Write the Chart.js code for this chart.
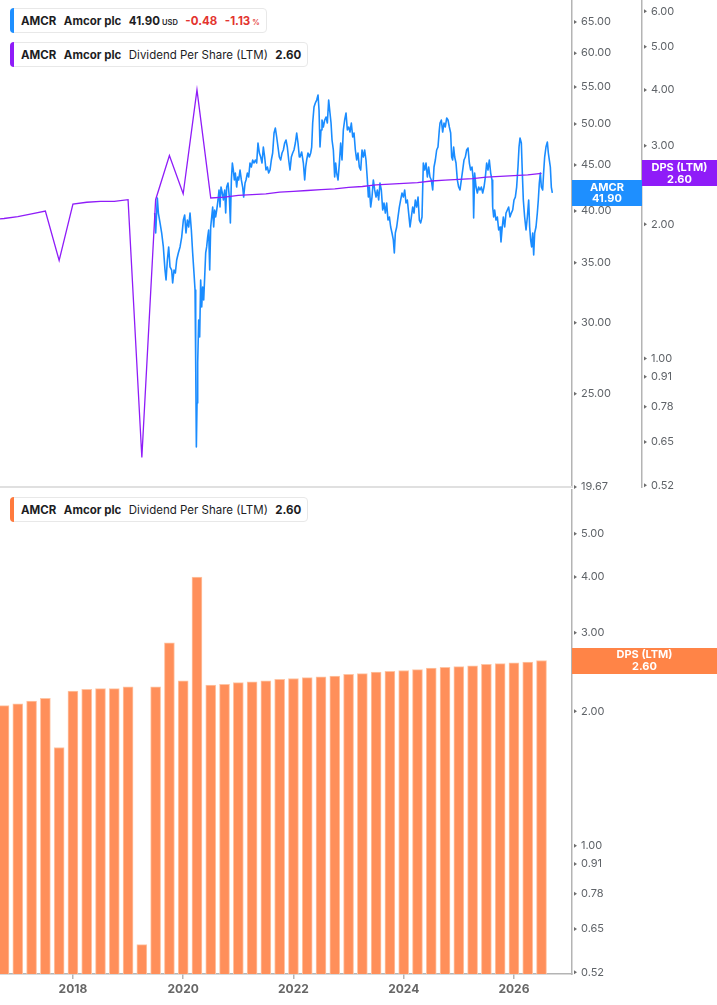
<!DOCTYPE html>
<html>
<head>
<meta charset="utf-8">
<title>AMCR Amcor plc - Dividend Per Share (LTM)</title>
<script src="https://cdn.jsdelivr.net/npm/chart.js@4.4.1/dist/chart.umd.min.js"></script>
<style>
  html, body { margin: 0; padding: 0; background: #fff; }
  #wrap { position: relative; width: 717px; height: 1005px; overflow: hidden; font-family: Inter, "Noto Sans", sans-serif; }
  .pane { position: absolute; left: 0; width: 717px; }
  #topPane { top: 0; height: 500px; }
  #bottomPane { top: 489px; height: 516px; }
  .legend {
    position: absolute; left: 10px; height: 23px; box-sizing: content-box;
    display: flex; align-items: center; gap: 7.5px; padding: 0 6px 0 10px;
    background: #fff; border: 1px solid #e8e8e8; border-radius: 4px;
    font-size: 11.5px; color: #1d1d1f; white-space: nowrap; z-index: 5;
  }
  .legend .mark { position: absolute; left: -1px; top: -1px; bottom: -1px; width: 4px; border-radius: 4px 0 0 4px; }
  .legend b { font-weight: 700; }
  .legend small { font-size: 7.5px; font-weight: 600; margin-left: 2px; }
  .legend .neg { color: #e3342f; }
</style>
</head>
<body>
<div id="wrap">
  <div class="pane" id="topPane"><canvas id="priceChart"></canvas></div>
  <div class="pane" id="bottomPane"><canvas id="dpsChart"></canvas></div>

  <div class="legend" style="top:8px">
    <span class="mark" style="background:#1e8fff"></span>
    <b>AMCR</b><b>Amcor plc</b><b>41.90<small>USD</small></b><b class="neg">-0.48</b><b class="neg">-1.13<small>%</small></b>
  </div>
  <div class="legend" style="top:42px">
    <span class="mark" style="background:#8f1cf8"></span>
    <b>AMCR</b><b>Amcor plc</b><span>Dividend Per Share (LTM)</span><b>2.60</b>
  </div>
  <div class="legend" style="top:497px">
    <span class="mark" style="background:#ff7a3d"></span>
    <b>AMCR</b><b>Amcor plc</b><span>Dividend Per Share (LTM)</span><b>2.60</b>
  </div>
</div>

<script>
"use strict";

// x axis (decimal years)
const yearTicks = [2018, 2020, 2022, 2024, 2026];

// tick labels on the right axes
const priceTicks = [19.67, 25, 30, 35, 40, 45, 50, 55, 60, 65];
const dpsTopTicks = [0.52, 0.65, 0.78, 0.91, 1, 2, 3, 4, 5, 6];
const dpsBottomTicks = [0.52, 0.65, 0.78, 0.91, 1, 2, 3, 4, 5];

// dividend per share (LTM), quarterly
const dpsDates = [
  2016.5, 2016.75, 2017.0, 2017.25, 2017.5, 2017.75, 2018.0, 2018.25, 2018.5, 2018.75,
  2019.0, 2019.25, 2019.5, 2019.75, 2020.0, 2020.25, 2020.5, 2020.75, 2021.0, 2021.25,
  2021.5, 2021.75, 2022.0, 2022.25, 2022.5, 2022.75, 2023.0, 2023.25, 2023.5, 2023.75,
  2024.0, 2024.25, 2024.5, 2024.75, 2025.0, 2025.25, 2025.5, 2025.75, 2026.0, 2026.25,
  2026.5,
];
const dpsValues = [
  2.05, 2.06, 2.08, 2.11, 2.14, 1.66, 2.22, 2.24, 2.25, 2.25,
  2.27, 0.60, 2.27, 2.85, 2.34, 4.00, 2.29, 2.30, 2.32, 2.33,
  2.34, 2.36, 2.37, 2.38, 2.39, 2.40, 2.42, 2.43, 2.45, 2.46,
  2.47, 2.48, 2.50, 2.51, 2.52, 2.53, 2.55, 2.56, 2.57, 2.58,
  2.60,
];

// share price (USD)
const priceDates = [
  2019.483, 2019.501, 2019.531, 2019.550, 2019.580, 2019.610, 2019.640, 2019.670, 2019.689, 2019.713,
  2019.737, 2019.761, 2019.791, 2019.809, 2019.834, 2019.858, 2019.882, 2019.912, 2019.943, 2019.973,
  2020.003, 2020.027, 2020.051, 2020.076, 2020.100, 2020.124, 2020.148, 2020.172, 2020.196, 2020.215,
  2020.227, 2020.239, 2020.251, 2020.263, 2020.281, 2020.299, 2020.317, 2020.336, 2020.354, 2020.372,
  2020.390, 2020.408, 2020.426, 2020.444, 2020.462, 2020.481, 2020.499, 2020.517, 2020.535, 2020.553,
  2020.571, 2020.589, 2020.608, 2020.632, 2020.650, 2020.668, 2020.686, 2020.710, 2020.729, 2020.753,
  2020.771, 2020.789, 2020.813, 2020.837, 2020.856, 2020.874, 2020.892, 2020.910, 2020.928, 2020.946,
  2020.970, 2020.989, 2021.007, 2021.031, 2021.055, 2021.079, 2021.097, 2021.122, 2021.140, 2021.164,
  2021.188, 2021.212, 2021.236, 2021.261, 2021.285, 2021.309, 2021.333, 2021.357, 2021.382, 2021.406,
  2021.430, 2021.454, 2021.478, 2021.502, 2021.527, 2021.551, 2021.575, 2021.599, 2021.623, 2021.648,
  2021.672, 2021.696, 2021.720, 2021.744, 2021.768, 2021.793, 2021.817, 2021.841, 2021.865, 2021.889,
  2021.914, 2021.938, 2021.962, 2021.986, 2022.010, 2022.035, 2022.059, 2022.083, 2022.107, 2022.119,
  2022.149, 2022.180, 2022.204, 2022.222, 2022.240, 2022.264, 2022.289, 2022.313, 2022.331, 2022.349,
  2022.373, 2022.397, 2022.422, 2022.446, 2022.464, 2022.482, 2022.500, 2022.518, 2022.542, 2022.567,
  2022.591, 2022.615, 2022.639, 2022.663, 2022.682, 2022.700, 2022.724, 2022.748, 2022.766, 2022.784,
  2022.809, 2022.833, 2022.857, 2022.881, 2022.905, 2022.929, 2022.954, 2022.978, 2023.002, 2023.026,
  2023.050, 2023.075, 2023.099, 2023.123, 2023.147, 2023.171, 2023.195, 2023.220, 2023.244, 2023.268,
  2023.292, 2023.316, 2023.341, 2023.359, 2023.377, 2023.401, 2023.425, 2023.449, 2023.474, 2023.498,
  2023.522, 2023.546, 2023.570, 2023.594, 2023.619, 2023.643, 2023.667, 2023.691, 2023.715, 2023.740,
  2023.764, 2023.788, 2023.812, 2023.830, 2023.848, 2023.873, 2023.897, 2023.921, 2023.945, 2023.969,
  2023.994, 2024.018, 2024.042, 2024.066, 2024.090, 2024.115, 2024.139, 2024.163, 2024.187, 2024.211,
  2024.235, 2024.260, 2024.284, 2024.308, 2024.332, 2024.356, 2024.381, 2024.405, 2024.429, 2024.453,
  2024.477, 2024.501, 2024.526, 2024.550, 2024.574, 2024.598, 2024.622, 2024.646, 2024.659, 2024.683,
  2024.707, 2024.731, 2024.755, 2024.780, 2024.804, 2024.828, 2024.852, 2024.870, 2024.888, 2024.906,
  2024.925, 2024.949, 2024.973, 2024.997, 2025.021, 2025.046, 2025.070, 2025.094, 2025.118, 2025.142,
  2025.167, 2025.191, 2025.215, 2025.239, 2025.257, 2025.269, 2025.287, 2025.312, 2025.336, 2025.360,
  2025.384, 2025.408, 2025.433, 2025.457, 2025.481, 2025.505, 2025.529, 2025.553, 2025.578, 2025.602,
  2025.614, 2025.632, 2025.650, 2025.674, 2025.699, 2025.723, 2025.747, 2025.765, 2025.783, 2025.807,
  2025.832, 2025.856, 2025.880, 2025.904, 2025.928, 2025.952, 2025.977, 2026.001, 2026.025, 2026.049,
  2026.073, 2026.092, 2026.110, 2026.134, 2026.152, 2026.170, 2026.194, 2026.219, 2026.243, 2026.267,
  2026.285, 2026.303, 2026.321, 2026.340, 2026.358, 2026.376, 2026.400, 2026.424, 2026.442, 2026.460,
  2026.479, 2026.497, 2026.521, 2026.539, 2026.557, 2026.581, 2026.606, 2026.624, 2026.642, 2026.660,
  2026.678, 2026.696,
];
const priceValues = [
  39.78, 37.79, 41.35, 39.78, 38.78, 37.79, 36.46, 34.36, 33.49, 35.26,
  36.46, 34.63, 34.36, 33.23, 34.36, 34.10, 35.26, 35.90, 36.46, 37.40,
  39.07, 39.58, 37.79, 39.07, 38.38, 39.78, 38.08, 35.90, 34.10, 32.64,
  27.06, 21.80, 24.41, 27.06, 30.22, 28.93, 33.49, 31.24, 32.89, 31.81,
  33.75, 35.90, 36.46, 37.40, 38.08, 34.36, 38.38, 39.38, 40.40, 38.38,
  40.09, 39.38, 40.09, 41.14, 42.21, 40.40, 42.53, 41.88, 41.14, 42.21,
  39.78, 42.53, 42.97, 41.45, 38.78, 43.31, 45.24, 44.43, 43.31, 44.09,
  42.53, 43.64, 43.31, 44.43, 43.31, 42.53, 41.45, 42.97, 43.31, 44.09,
  43.64, 45.24, 44.78, 45.59, 45.24, 45.59, 45.24, 47.63, 46.42, 45.94,
  45.24, 47.14, 45.94, 44.43, 44.78, 44.09, 44.43, 45.59, 46.42, 48.87,
  49.50, 48.37, 47.14, 45.94, 45.59, 46.42, 46.78, 47.63, 48.00, 47.14,
  45.59, 44.43, 45.94, 46.42, 46.78, 47.63, 48.87, 47.63, 45.94, 45.94,
  46.54, 45.24, 43.31, 44.78, 45.59, 46.42, 45.94, 46.42, 47.14, 50.14,
  52.25, 52.79, 53.19, 53.88, 51.84, 47.14, 49.25, 50.53, 49.63, 50.53,
  50.92, 50.14, 53.19, 51.45, 50.14, 48.00, 46.78, 43.64, 45.24, 44.09,
  43.31, 45.24, 47.63, 45.59, 49.25, 50.53, 51.45, 49.25, 49.63, 48.99,
  50.14, 48.37, 48.87, 46.78, 45.59, 46.42, 44.78, 44.43, 46.78, 45.94,
  46.78, 45.59, 43.31, 41.45, 42.53, 40.40, 41.45, 43.31, 42.21, 41.45,
  42.21, 41.14, 42.97, 42.21, 40.09, 40.82, 39.78, 40.82, 39.07, 39.38,
  38.38, 37.79, 37.12, 35.90, 37.79, 38.38, 39.38, 40.40, 41.14, 41.88,
  41.45, 42.21, 40.82, 41.14, 39.78, 38.38, 39.38, 40.40, 39.78, 41.14,
  40.40, 41.45, 39.07, 38.78, 39.38, 45.24, 44.43, 45.24, 43.64, 44.78,
  43.64, 43.31, 42.21, 44.78, 45.59, 46.78, 47.14, 49.25, 50.14, 50.53,
  48.99, 50.14, 49.63, 50.79, 50.53, 49.63, 48.87, 45.94, 45.59, 47.14,
  45.94, 45.24, 43.31, 42.53, 42.21, 43.31, 44.43, 45.59, 45.94, 46.78,
  47.02, 45.24, 44.43, 44.78, 43.64, 39.28, 44.09, 42.53, 41.88, 42.53,
  42.21, 42.53, 41.88, 42.53, 43.64, 45.24, 44.43, 45.59, 44.09, 43.31,
  40.40, 39.38, 40.09, 39.07, 39.38, 38.08, 38.38, 36.93, 38.08, 39.38,
  38.38, 39.78, 40.09, 40.40, 39.38, 39.78, 40.09, 41.14, 41.45, 42.53,
  44.78, 47.14, 48.24, 47.63, 44.09, 41.14, 39.38, 38.08, 39.38, 41.14,
  38.38, 37.12, 36.46, 37.79, 35.71, 37.79, 38.38, 39.78, 41.14, 42.97,
  44.09, 42.53, 42.21, 44.21, 45.94, 47.14, 47.75, 46.42, 45.59, 44.78,
  42.53, 41.90,
];

const lastPrice = priceValues[priceValues.length - 1];
const lastDps = dpsValues[dpsValues.length - 1];

const AXIS_COLOR = "#b4b4b4";
const TICK_TEXT = "#5f6368";

Chart.defaults.font.family = "Inter, 'Noto Sans', sans-serif";
Chart.defaults.animation = false;

function toPoints(xs, ys) {
  return xs.map((x, i) => ({ x: x, y: ys[i] }));
}

function fixedTicks(values) {
  return (scale) => {
    scale.ticks = values.map((v) => ({ value: v }));
  };
}

function fixedWidth(w) {
  return (scale) => {
    scale.width = w;
    scale.paddingTop = 0;
    scale.paddingBottom = 0;
  };
}

function rightLogAxis(min, max, ticks, width, weight) {
  return {
    type: "logarithmic",
    position: "right",
    weight: weight,
    min: min,
    max: max,
    grid: { display: false, drawTicks: false },
    border: { display: true, color: AXIS_COLOR, width: 1.5 },
    ticks: {
      autoSkip: false,
      padding: 9,
      color: TICK_TEXT,
      font: { size: 11 },
      callback: (v) => Number(v).toFixed(2),
    },
    afterBuildTicks: fixedTicks(ticks),
    afterFit: fixedWidth(width),
  };
}

// little triangles next to every y tick
const axisMarks = {
  id: "axisMarks",
  afterDraw(chart) {
    const ctx = chart.ctx;
    ctx.save();
    ctx.fillStyle = "#6d6d6d";
    Object.values(chart.scales).forEach((scale) => {
      if (scale.axis !== "y") return;
      scale.ticks.forEach((t) => {
        const y = scale.getPixelForValue(t.value);
        ctx.beginPath();
        ctx.moveTo(scale.left + 2, y - 2);
        ctx.lineTo(scale.left + 5, y);
        ctx.lineTo(scale.left + 2, y + 2);
        ctx.closePath();
        ctx.fill();
      });
    });
    ctx.restore();
  },
};

// coloured last-value labels sitting on the axes
const valueBoxes = {
  id: "valueBoxes",
  afterDraw(chart, args, opts) {
    const ctx = chart.ctx;
    ctx.save();
    (opts.boxes || []).forEach((b) => {
      const scale = chart.scales[b.axis];
      const y = scale.getPixelForValue(b.value);
      const left = scale.left;
      const w = scale.right - scale.left;
      ctx.fillStyle = b.color;
      ctx.fillRect(left, Math.round(y - 13), w, 26);
      ctx.fillStyle = "#fff";
      ctx.font = "700 11px Inter, 'Noto Sans', sans-serif";
      ctx.textAlign = "center";
      ctx.textBaseline = "middle";
      ctx.fillText(b.lines[0], left + w / 2, y - 5.5);
      ctx.fillText(b.lines[1], left + w / 2, y + 6);
    });
    ctx.restore();
  },
};

// grey line splitting the two panes
const paneDivider = {
  id: "paneDivider",
  afterDraw(chart) {
    const { ctx, chartArea } = chart;
    ctx.save();
    ctx.strokeStyle = "#e0e0e0";
    ctx.lineWidth = 2;
    ctx.beginPath();
    ctx.moveTo(0, chartArea.bottom);
    ctx.lineTo(chartArea.right, chartArea.bottom);
    ctx.stroke();
    ctx.restore();
  },
};

const xRange = { min: 2016.677, max: 2027.053 };

const priceChart = new Chart(document.getElementById("priceChart"), {
  type: "line",
  data: {
    datasets: [
      {
        label: "Dividend Per Share (LTM)",
        data: toPoints(dpsDates, dpsValues),
        yAxisID: "dps",
        borderColor: "#8f1cf8",
        borderWidth: 1.3,
        pointRadius: 0,
        tension: 0,
      },
      {
        label: "AMCR",
        data: toPoints(priceDates, priceValues),
        yAxisID: "price",
        borderColor: "#1a8cff",
        borderWidth: 1.6,
        pointRadius: 0,
        tension: 0,
        borderJoinStyle: "round",
      },
    ],
  },
  options: {
    responsive: true,
    maintainAspectRatio: false,
    layout: { padding: { top: 0, left: 0, right: 0, bottom: 13 } },
    plugins: {
      legend: { display: false },
      tooltip: { enabled: false },
      valueBoxes: {
        boxes: [
          { axis: "price", value: lastPrice, color: "#1e8fff", lines: ["AMCR", lastPrice.toFixed(2)] },
          { axis: "dps", value: lastDps, color: "#8f1cf8", lines: ["DPS (LTM)", lastDps.toFixed(2)] },
        ],
      },
    },
    scales: {
      x: { type: "linear", min: xRange.min, max: xRange.max, display: false },
      price: rightLogAxis(19.67, 68.79, priceTicks, 70, 0),
      dps: rightLogAxis(0.51545, 6.361, dpsTopTicks, 75, 1),
    },
  },
  plugins: [paneDivider, axisMarks, valueBoxes],
});

const dpsChart = new Chart(document.getElementById("dpsChart"), {
  type: "bar",
  data: {
    datasets: [
      {
        label: "Dividend Per Share (LTM)",
        data: toPoints(dpsDates, dpsValues),
        backgroundColor: "#ff8f5a",
        borderColor: "#ffc4a3",
        borderWidth: 1,
        barThickness: 10,
      },
    ],
  },
  options: {
    responsive: true,
    maintainAspectRatio: false,
    layout: { padding: 0 },
    plugins: {
      legend: { display: false },
      tooltip: { enabled: false },
      valueBoxes: {
        boxes: [
          { axis: "y", value: lastDps, color: "#ff8447", lines: ["DPS (LTM)", lastDps.toFixed(2)] },
        ],
      },
    },
    scales: {
      x: {
        type: "linear",
        min: xRange.min,
        max: xRange.max,
        offset: false,
        grid: { offset: false, drawOnChartArea: false, drawTicks: true, tickLength: 5, color: AXIS_COLOR, lineWidth: 1.5 },
        border: { display: true, color: AXIS_COLOR, width: 1.5 },
        ticks: {
          autoSkip: false,
          maxRotation: 0,
          padding: 3,
          color: "#666",
          font: { size: 12, weight: "700" },
          callback: (v) => String(v),
        },
        afterBuildTicks: fixedTicks(yearTicks),
        afterFit: (scale) => {
          scale.height = 31;
          scale.paddingLeft = 0;
          scale.paddingRight = 0;
        },
      },
      y: rightLogAxis(0.51545, 6.3035, dpsBottomTicks, 145, 0),
    },
  },
  plugins: [axisMarks, valueBoxes],
});
</script>
</body>
</html>
